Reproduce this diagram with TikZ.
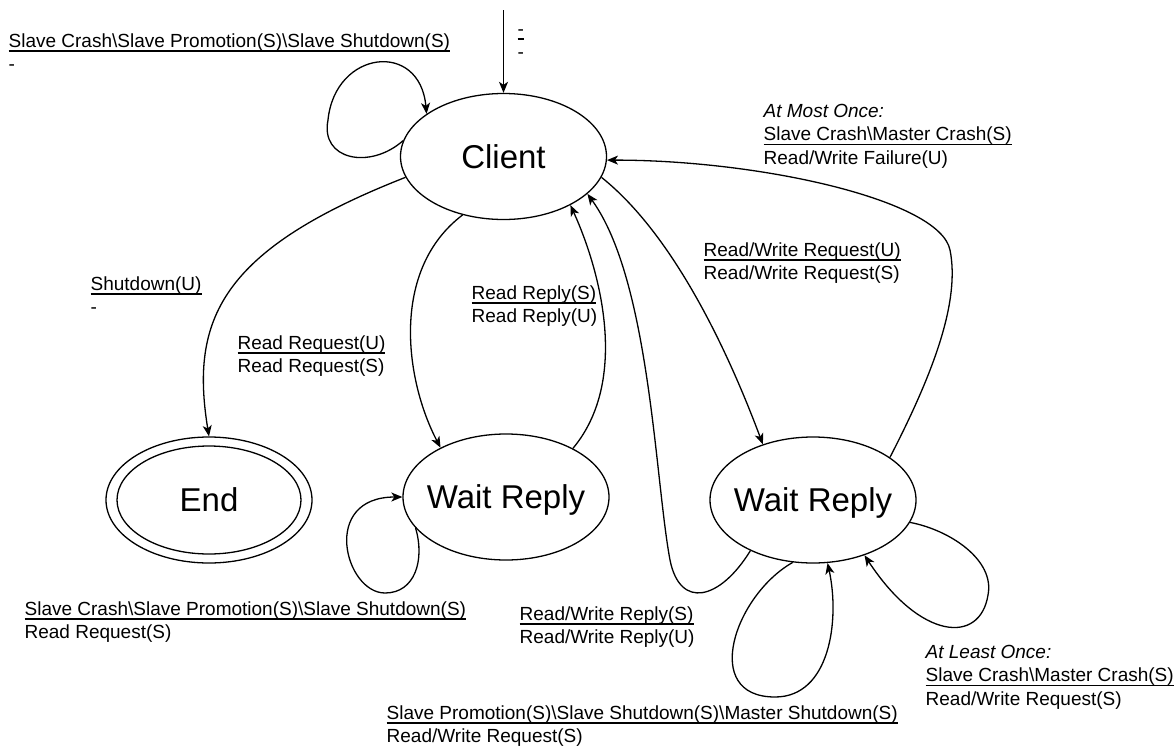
\documentclass[tikz,border=0pt]{standalone}
\usepackage{fontspec}
\setmainfont{Liberation Sans}
\usepackage{tikz}
\usetikzlibrary{arrows.meta,shapes.geometric}
\newsavebox{\ulbox}
\newcommand{\ulabel}[1]{\sbox{\ulbox}{#1}\rlap{\rule[-4.6pt]{\wd\ulbox}{1.2pt}}\usebox{\ulbox}}
\newcommand{\trl}[2]{\begin{tabular}[t]{@{}l@{}}\ulabel{#1}\\#2\end{tabular}}
\newcommand{\trlx}[3]{\begin{tabular}[t]{@{}l@{}}\textit{#1}\\\ulabel{#2}\\#3\end{tabular}}
\newcommand{\bs}{\textbackslash}

\begin{document}
\begin{tikzpicture}[x=1pt,y=-1pt,line width=1.3pt,
  state/.style={draw,ellipse,minimum width=206pt,minimum height=126pt,inner sep=0pt,
    text height=23.6pt,text depth=0pt,font=\fontsize{33}{40}\selectfont},
  lbl/.style={anchor=base west,inner sep=0pt,font=\fontsize{19}{23.5}\selectfont},
  tr/.style={-{Stealth[length=11pt,width=9pt,inset=3pt]}}]
  \useasboundingbox (0,0) rectangle (1175,747);

  \node[state] (client) at (503.5,156.5) {\makebox[0pt]{Client}};
  \node[state] (stop)   at (209,500)     {\makebox[0pt]{End}};
  \draw (stop.center) ellipse [x radius=92, y radius=54];
  \node[state] (waitrd) at (506,497)     {\makebox[0pt]{Wait Reply}};
  \node[state] (waitrw) at (813,500)     {\makebox[0pt]{Wait Reply}};
  \coordinate (init) at (503.5,10);

  \draw[tr] (init) -- (client);
  \draw[tr] (client.171) .. controls (370,170) and (320,160) .. (328,120)
                         .. controls (335,50) and (420,40) .. (client.151);
  \draw[tr] (client.192) .. controls (220,250) and (190,320) .. (stop.north);
  \draw[tr] (client.235) .. controls (390,270) and (405,380) .. (waitrd.143);
  \draw[tr] (waitrd.36) .. controls (630,380) and (600,270) .. (client.324);
  \draw[tr] (client.348) .. controls (680,240) and (735,370) .. (waitrw.132);
  \draw[tr] (waitrw.29) .. controls (935,370) and (960,300) .. (950,250)
                        .. controls (940,200) and (760,160) .. (client.358);
  \draw[tr] (waitrw.219) .. controls (720,600) and (680,610) .. (670,560)
                         .. controls (655,480) and (650,280) .. (client.336);
  \draw[tr] (waitrd.199) .. controls (425,560) and (415,593) .. (385,593)
                         .. controls (345,593) and (320,497) .. (waitrd.west);
  \draw[tr] (waitrw.252) .. controls (735,595) and (700,697) .. (775,697)
                         .. controls (830,697) and (840,620) .. (waitrw.283);
  \draw[tr] (waitrw.347) .. controls (950,530) and (995,560) .. (988,595)
                         .. controls (980,645) and (920,640) .. (waitrw.313);

  \node[lbl] (lclient)  at (8,47)    {\trl{Slave Crash\bs Slave Promotion(S)\bs Slave Shutdown(S)}{-}};
  \node[lbl] (linit)    at (517,35)  {\trl{-}{-}};
  \node[lbl] (lmost)    at (763,117) {\trlx{At Most Once:}{Slave Crash\bs Master Crash(S)}{Read/Write Failure(U)}};
  \node[lbl] (lrwreq)   at (703,256) {\trl{Read/Write Request(U)}{Read/Write Request(S)}};
  \node[lbl] (lshut)    at (90,290)  {\trl{Shutdown(U)}{-}};
  \node[lbl] (lrdreq)   at (237,349) {\trl{Read Request(U)}{Read Request(S)}};
  \node[lbl] (lrdrep)   at (471,299) {\trl{Read Reply(S)}{Read Reply(U)}};
  \node[lbl] (lwaitrd)  at (24,615)  {\trl{Slave Crash\bs Slave Promotion(S)\bs Slave Shutdown(S)}{Read Request(S)}};
  \node[lbl] (lrwrep)   at (519,620) {\trl{Read/Write Reply(S)}{Read/Write Reply(U)}};
  \node[lbl] (lleast)   at (925,658) {\trlx{At Least Once:}{Slave Crash\bs Master Crash(S)}{Read/Write Request(S)}};
  \node[lbl] (lwaitrw)  at (386,719) {\trl{Slave Promotion(S)\bs Slave Shutdown(S)\bs Master Shutdown(S)}{Read/Write Request(S)}};
\end{tikzpicture}
\end{document}
